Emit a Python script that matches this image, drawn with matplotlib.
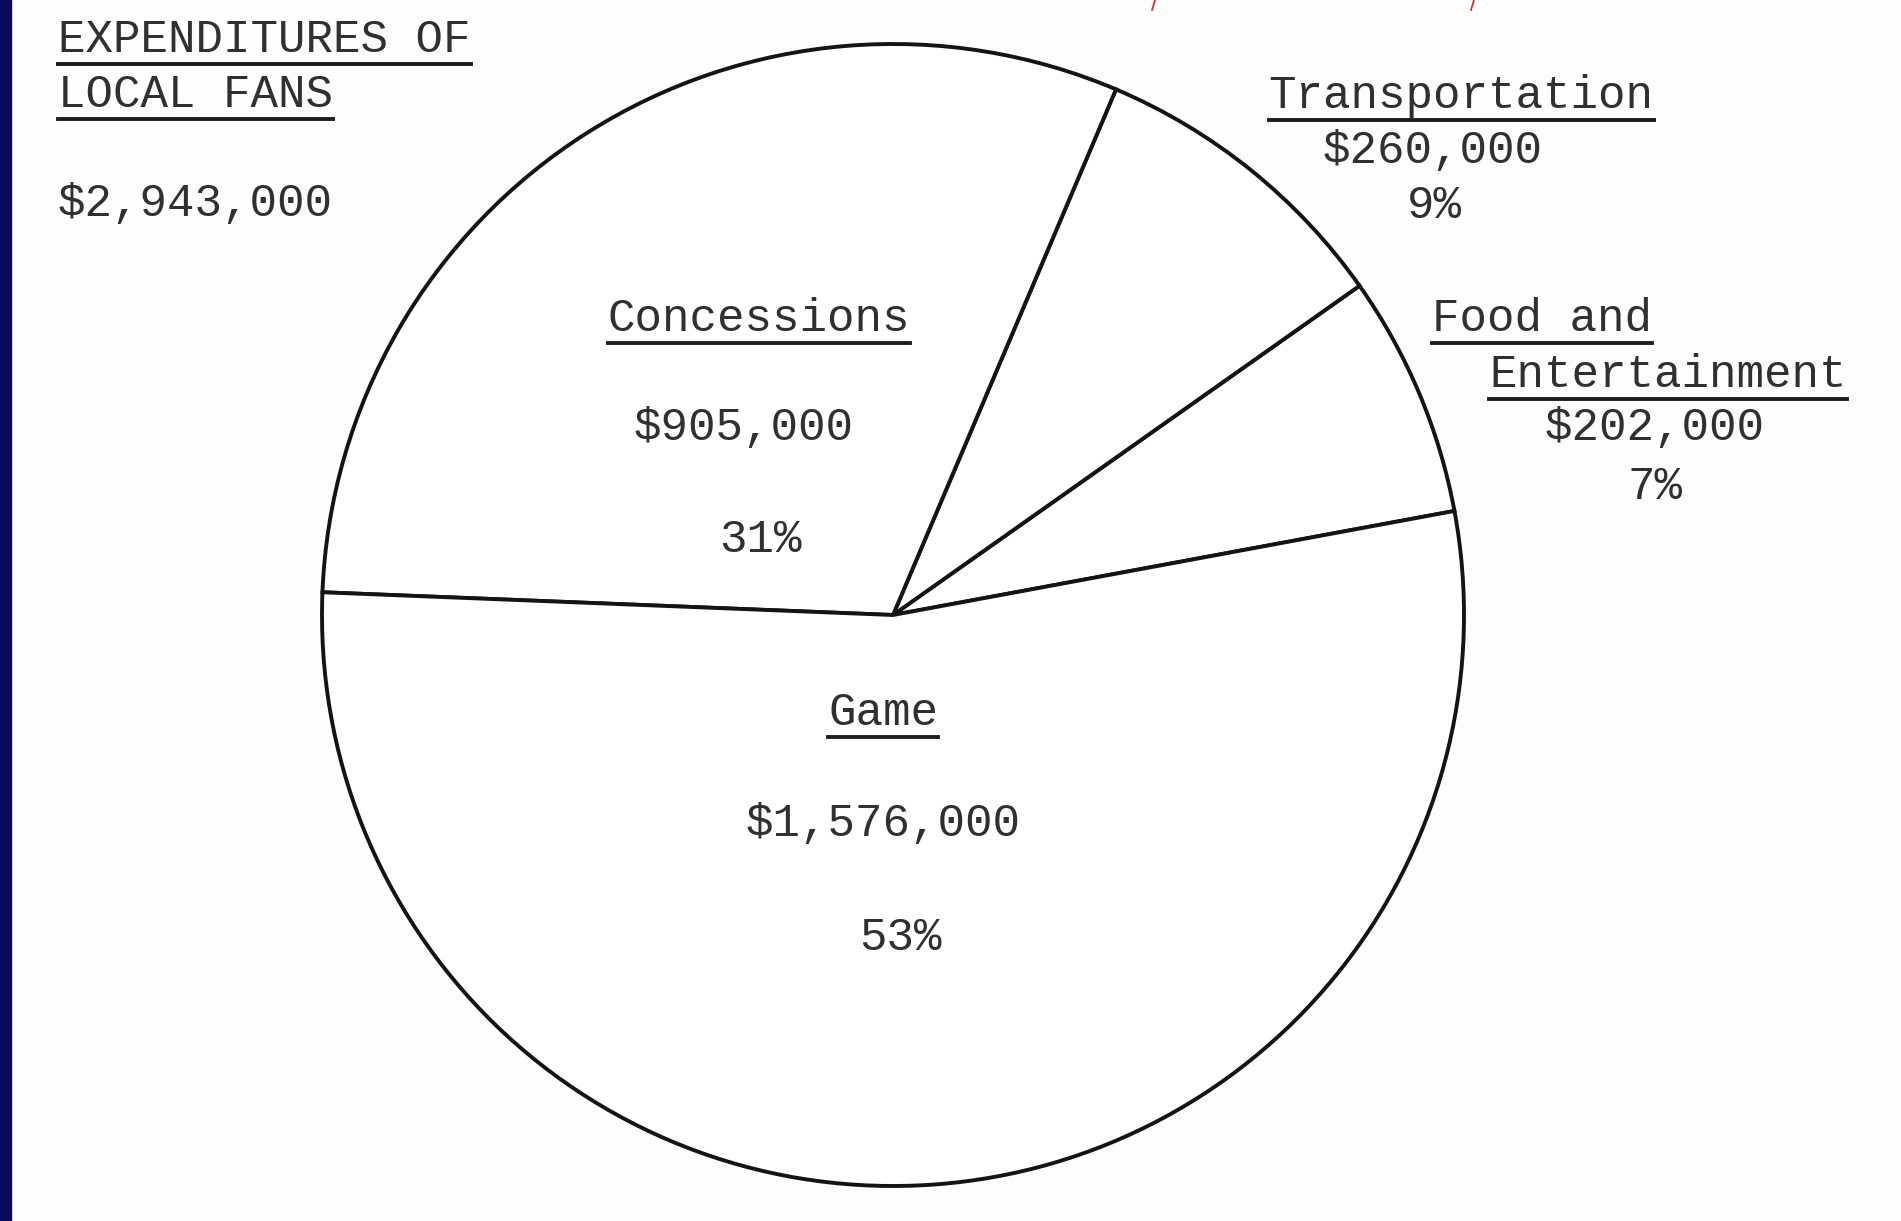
import matplotlib.pyplot as plt
from matplotlib.lines import Line2D

categories = ['Food and\nEntertainment', 'Transportation', 'Concessions', 'Game']
values = [202000, 260000, 905000, 1576000]
amount_labels = ['$202,000', '$260,000', '$905,000', '$1,576,000']
pct_labels = ['7%', '9%', '31%', '53%']
title_lines = ['EXPENDITURES OF', 'LOCAL FANS']
total_label = '$2,943,000'

W, H = 1901, 1221
fig = plt.figure(figsize=(W / 100, H / 100), dpi=100, facecolor='#fdfdfb')

# navy strip on the left edge of the scan
fig.patches.append(plt.Rectangle((0, 0), 11 / W, 1, transform=fig.transFigure,
                                 color='#0b0b5c', zorder=0))

# pie axes: circle centre (893, 615 from top), radius 571 px
cx, cy, r = 893, H - 615, 571
ax = fig.add_axes([(cx - r) / W, (cy - r) / H, 2 * r / W, 2 * r / H])
wedges, _ = ax.pie(values, startangle=10.5, counterclock=True,
                   colors=['white'] * len(values),
                   wedgeprops={'edgecolor': '#141414', 'linewidth': 2.8,
                               'clip_on': False})
ax.set_xlim(-1, 1)
ax.set_ylim(-1, 1)
ax.axis('off')

tc = '#303030'
fs = 33
font = 'Liberation Mono'
underlined = []


def put(x, y, s, ha='center', ul=False):
    # x, y in pixels, y measured from the top of the page
    t = fig.text(x / W, 1 - (y + 4) / H, s, ha=ha, va='center', fontsize=fs,
                 family=font, color=tc)
    if ul:
        underlined.append(t)
    return t


# title block
put(58, 36, title_lines[0], ha='left', ul=True)
put(58, 91, title_lines[1], ha='left', ul=True)
put(58, 200, total_label, ha='left')

# Concessions
put(759, 315, categories[2], ul=True)
put(744, 424, amount_labels[2])
put(760, 536, pct_labels[2])

# Transportation
put(1461, 92, categories[1], ul=True)
put(1433, 147, amount_labels[1])
put(1434, 202, pct_labels[1])

# Food and Entertainment
food, ent = categories[0].split('\n')
put(1432, 315, food, ha='left', ul=True)
put(1489, 371, ent, ha='left', ul=True)
put(1655, 424, amount_labels[0])
put(1655, 483, pct_labels[0])

# Game
put(883, 709, categories[3], ul=True)
put(883, 820, amount_labels[3])
put(900, 934, pct_labels[3])

# underlines from rendered text extents
fig.canvas.draw()
rend = fig.canvas.get_renderer()
for t in underlined:
    bb = t.get_window_extent(rend)
    y = bb.y0 - 2
    fig.add_artist(Line2D([bb.x0 / W, bb.x1 / W], [y / H, y / H],
                          transform=fig.transFigure, color='#1e1e1e', lw=2.8))

# small red pen marks at the top edge
for x0 in (1152, 1471):
    fig.add_artist(Line2D([x0 / W, (x0 + 3) / W], [1 - 10 / H, 1.0],
                          transform=fig.transFigure, color='#e02020', lw=1.2))

fig.savefig('out.png', dpi=100, facecolor=fig.get_facecolor())
